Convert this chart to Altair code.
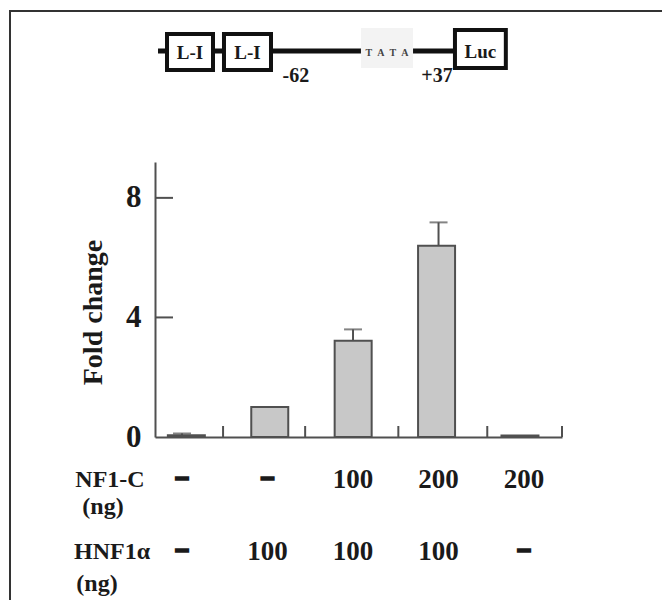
import altair as alt
import pandas as pd

# ---------------- data ----------------
conditions = ["c1", "c2", "c3", "c4", "c5"]
positions = [1, 2, 3, 4, 5]
fold_change = [0.06, 1.0, 3.22, 6.4, 0.05]
error_up = [0.06, 0.0, 0.38, 0.78, 0.0]
nf1c_ng = ["–", "–", "100", "200", "200"]
hnf1a_ng = ["–", "100", "100", "100", "–"]
y_label_values = [0, 4, 8]
y_tick_values = [4, 8]
x_tick_values = [1.48, 2.44, 3.53, 4.57, 5.444]
x_domain = [0.684, 5.444]
y_domain = [0, 9.2]
row_labels = ["NF1-C", "(ng)", "HNF1α", "(ng)"]

# construct schematic (units: percent of plot width)
line_start = [0.74]
line_end = [73.7]
box_labels = ["L-I", "L-I"]
box_start = [2.95, 16.95]
box_end = [14.25, 28.5]
reporter_label = ["Luc"]
reporter_start = [73.7]
reporter_end = [86.2]
tata_label = ["T\u2002A\u2002T\u2002A"]
tata_start = [50.6]
tata_end = [63.4]
coord_labels = ["-62", "+37"]
coord_pos = [34.6, 69.3]

SERIF = "Liberation Serif"
INK = "#1a1a1a"
GREY = "#505050"

df = pd.DataFrame({
    "condition": conditions,
    "pos": positions,
    "value": fold_change,
    "top": [v + e for v, e in zip(fold_change, error_up)],
    "nf1c": nf1c_ng,
    "hnf1a": hnf1a_ng,
})

xs = alt.Scale(domain=x_domain, nice=False, zero=False)
ys = alt.Scale(domain=y_domain, nice=False, zero=False)
base = alt.Chart(df)

frame = alt.Chart(pd.DataFrame({"f": [0]})).mark_rect(
    fillOpacity=0, stroke="#333333", strokeWidth=2
).encode(x=alt.value(-145), x2=alt.value(900), y=alt.value(-151), y2=alt.value(900))

bars = base.mark_bar(size=37, fill="#c8c8c8", stroke=GREY, strokeWidth=2, orient="vertical").encode(
    x=alt.X("pos:Q", scale=xs, axis=alt.Axis(title="", ticks=False, labels=False, grid=False,
                                             domainColor=GREY, domainWidth=2)),
    y=alt.Y("value:Q", scale=ys, stack=None,
            axis=alt.Axis(values=y_label_values, ticks=False, grid=False, domainColor=GREY, domainWidth=2,
                          labelFont=SERIF, labelFontWeight="bold", labelFontSize=31, labelColor=INK,
                          labelPadding=14, title="Fold change", titleFont=SERIF, titleFontWeight="bold",
                          titleFontSize=28, titleColor=INK, titleX=-62, titleY=150, titleBaseline="middle")),
)

err = base.mark_rule(color=GREY, strokeWidth=2).encode(
    x=alt.X("pos:Q", scale=xs, axis=None),
    y=alt.Y("value:Q", scale=ys),
    y2="top:Q",
)
caps = base.transform_filter("datum.top > datum.value").mark_tick(
    orient="horizontal", size=18, thickness=2, color=GREY
).encode(x=alt.X("pos:Q", scale=xs, axis=None), y=alt.Y("top:Q", scale=ys))

yticks = alt.Chart(pd.DataFrame({"t": y_tick_values})).mark_rule(color=GREY, strokeWidth=2).encode(
    y=alt.Y("t:Q", scale=ys), x=alt.value(0), x2=alt.value(18))
xticks = alt.Chart(pd.DataFrame({"t": x_tick_values})).mark_rule(color=GREY, strokeWidth=2).encode(
    x=alt.X("t:Q", scale=xs, axis=None), y=alt.value(275), y2=alt.value(264))


def table_row(field, ypix):
    nums = base.transform_filter(f"datum.{field} != '–'").mark_text(
        font=SERIF, fontWeight="bold", fontSize=27, color=INK, baseline="middle"
    ).encode(x=alt.X("pos:Q", scale=xs, axis=None), y=alt.value(ypix), text=f"{field}:N")
    dashes = base.transform_filter(f"datum.{field} == '–'").mark_text(
        font=SERIF, fontWeight="bold", fontSize=22, color=INK, stroke=INK, strokeWidth=3,
        baseline="middle", dy=-3
    ).encode(x=alt.X("pos:Q", scale=xs, axis=None), y=alt.value(ypix), text=f"{field}:N")
    return [nums, dashes]


row_pos = [(-45, 318), (-52, 345), (-43, 390), (-58, 422)]
row_layers = []
for lab, (px, py) in zip(row_labels, row_pos):
    row_layers.append(
        alt.Chart(pd.DataFrame({"label": [lab]})).mark_text(
            font=SERIF, fontWeight="bold", fontSize=24, color=INK, baseline="middle"
        ).encode(x=alt.value(px), y=alt.value(py), text="label:N")
    )

# ---------------- schematic ----------------
ds = alt.Scale(domain=[0, 100], nice=False, zero=False)
dline = alt.Chart(pd.DataFrame({"s": line_start, "e": line_end})).mark_rule(
    color="#111111", strokeWidth=5).encode(x=alt.X("s:Q", scale=ds, axis=None), x2="e:Q", y=alt.value(-111))

tata_df = pd.DataFrame({"label": tata_label, "s": tata_start, "e": tata_end})
tata_bg = alt.Chart(tata_df).mark_rect(fill="#f3f3f3").encode(
    x=alt.X("s:Q", scale=ds, axis=None), x2="e:Q", y=alt.value(-134), y2=alt.value(-94))
tata_txt = alt.Chart(tata_df).transform_calculate(c="(datum.s + datum.e) / 2").mark_text(
    font=SERIF, fontWeight="bold", fontSize=10, color="#444444", baseline="middle"
).encode(x=alt.X("c:Q", scale=ds, axis=None), y=alt.value(-109), text="label:N")

box_df = pd.DataFrame({"label": box_labels, "s": box_start, "e": box_end})
boxes = alt.Chart(box_df).mark_rect(fill="white", stroke="#111111", strokeWidth=4).encode(
    x=alt.X("s:Q", scale=ds, axis=None), x2="e:Q", y=alt.value(-128), y2=alt.value(-92))
box_txt = alt.Chart(box_df).transform_calculate(c="(datum.s + datum.e) / 2").mark_text(
    font=SERIF, fontWeight="bold", fontSize=19, color=INK, baseline="middle"
).encode(x=alt.X("c:Q", scale=ds, axis=None), y=alt.value(-109), text="label:N")

rep_df = pd.DataFrame({"label": reporter_label, "s": reporter_start, "e": reporter_end})
rep_box = alt.Chart(rep_df).mark_rect(fill="white", stroke="#111111", strokeWidth=4).encode(
    x=alt.X("s:Q", scale=ds, axis=None), x2="e:Q", y=alt.value(-132), y2=alt.value(-94))
rep_txt = alt.Chart(rep_df).transform_calculate(c="(datum.s + datum.e) / 2").mark_text(
    font=SERIF, fontWeight="bold", fontSize=19, color=INK, baseline="middle"
).encode(x=alt.X("c:Q", scale=ds, axis=None), y=alt.value(-110), text="label:N")

coord_txt = alt.Chart(pd.DataFrame({"label": coord_labels, "p": coord_pos})).mark_text(
    font=SERIF, fontWeight="bold", fontSize=20, color=INK, baseline="middle"
).encode(x=alt.X("p:Q", scale=ds, axis=None), y=alt.value(-86), text="label:N")

# flat layer: every layer's x scale has an explicit domain, so independent x scales
# keep bar-chart layers aligned while the schematic uses its own units
chart = alt.layer(
    frame, bars, err, caps, yticks, xticks,
    *table_row("nf1c", 318), *table_row("hnf1a", 390), *row_layers,
    dline, tata_bg, tata_txt, boxes, box_txt, rep_box, rep_txt, coord_txt,
).resolve_scale(x="independent").properties(
    width=407, height=275,
    autosize=alt.AutoSizeParams(type="none"),
    padding={"left": 147, "top": 154, "right": 100, "bottom": 163},
    background="white",
).configure_view(strokeWidth=0)

chart.save("out.html", embed_options={"renderer": "svg", "actions": False})
